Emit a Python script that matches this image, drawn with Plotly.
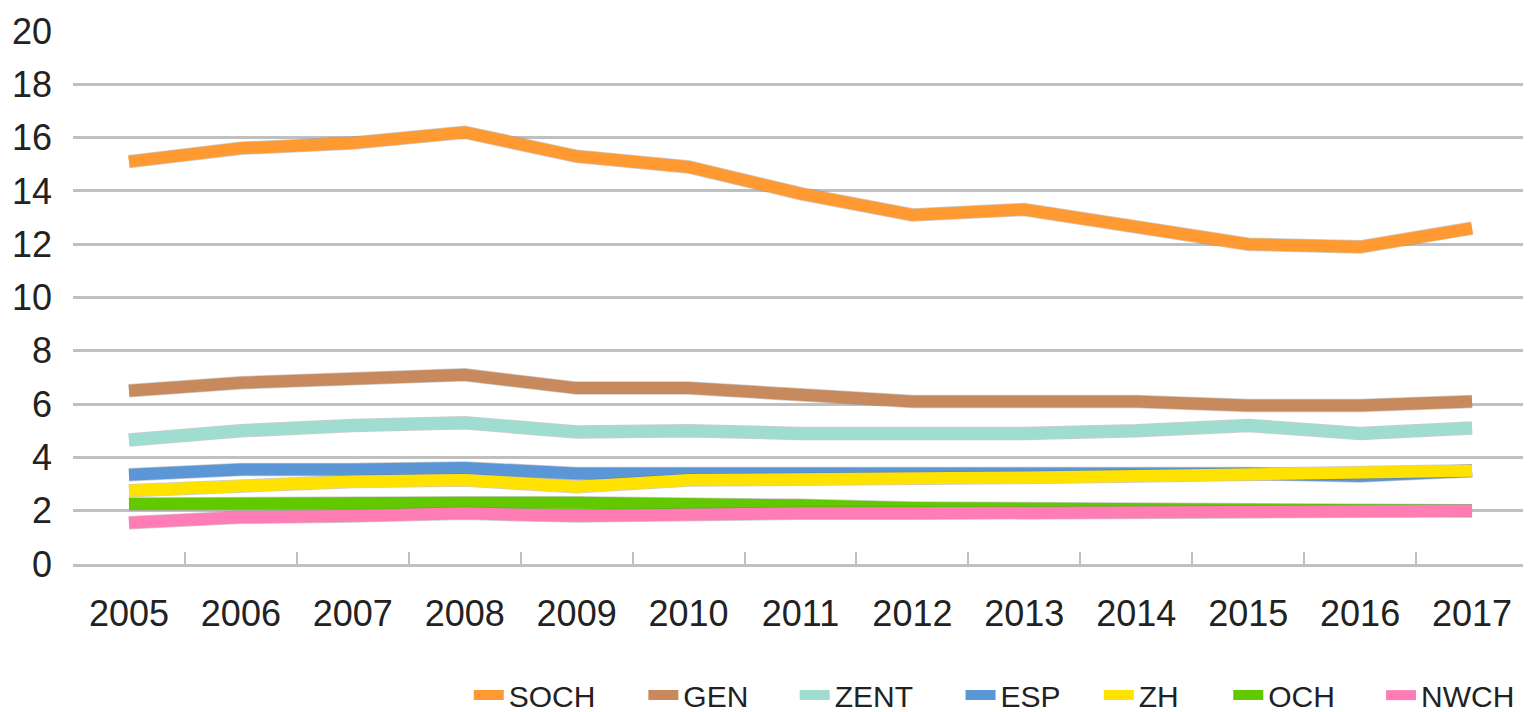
import plotly.graph_objects as go

years = ["2005", "2006", "2007", "2008", "2009", "2010", "2011",
         "2012", "2013", "2014", "2015", "2016", "2017"]

soch = [15.1, 15.6, 15.8, 16.2, 15.3, 14.9, 13.9, 13.1, 13.3, 12.7, 12.0, 11.9, 12.6]
gen = [6.5, 6.8, 6.95, 7.1, 6.6, 6.6, 6.35, 6.1, 6.1, 6.1, 5.95, 5.95, 6.1]
zent = [4.65, 5.0, 5.2, 5.3, 4.95, 5.0, 4.9, 4.85, 4.9, 5.0, 5.2, 4.9, 5.1]
esp = [3.35, 3.55, 3.55, 3.6, 3.4, 3.4, 3.4, 3.35, 3.4, 3.45, 3.4, 3.3, 3.5]
zh = [2.75, 2.95, 3.1, 3.15, 2.9, 3.15, 3.15, 3.2, 3.25, 3.3, 3.35, 3.4, 3.5]
och = [2.25, 2.3, 2.3, 2.3, 2.3, 2.3, 2.2, 2.1, 2.1, 2.05, 2.05, 2.0, 2.0]
nwch = [1.55, 1.75, 1.8, 1.9, 1.8, 1.9, 1.9, 1.9, 1.9, 1.95, 2.0, 1.9, 2.0]

series_names = ["SOCH", "GEN", "ZENT", "ESP", "ZH", "OCH", "NWCH"]
series_values = [soch, gen, zent, esp, zh, och, nwch]
series_colors = ["#FF9A33", "#C88A5C", "#A0DDD1", "#5B96D6", "#FFE200", "#62C800", "#FF7DB4"]

# legend entry left edges (paper fraction along the x axis)
legend_x = [0.272, 0.392, 0.496, 0.610, 0.705, 0.794, 0.899]

font_family = "Liberation Sans, Arial"

fig = go.Figure()
for i, (name, vals, color) in enumerate(zip(series_names, series_values, series_colors)):
    lg = "legend" if i == 0 else f"legend{i + 1}"
    fig.add_trace(go.Scatter(
        x=years, y=vals, mode="lines", showlegend=False, hoverinfo="skip",
        line=dict(color="rgba(110,110,110,0.35)", width=13.5),
    ))
    fig.add_trace(go.Scatter(
        x=years, y=vals, name=name, mode="lines", legend=lg,
        line=dict(color=color, width=12),
    ))

legend_style = dict(
    orientation="h", xanchor="left", y=-0.246, yanchor="middle",
    font=dict(family=font_family, size=30, color="#222222"),
    itemwidth=30, bgcolor="rgba(0,0,0,0)", borderwidth=0,
)
legends = {}
for i, lx in enumerate(legend_x):
    key = "legend" if i == 0 else f"legend{i + 1}"
    legends[key] = dict(legend_style, x=lx)

fig.update_layout(
    width=1523, height=704,
    margin=dict(l=65, r=3, t=23, b=148, autoexpand=False),
    plot_bgcolor="white", paper_bgcolor="white",
    showlegend=True,
    xaxis=dict(
        type="category", range=[-0.5, 12.5], automargin=False,
        showgrid=False, showline=True, linecolor="#C0C0C0", linewidth=3,
        ticks="inside", tickson="boundaries", ticklen=12, tickwidth=2,
        tickcolor="#C0C0C0",
        tickfont=dict(family=font_family, size=36, color="#222222"),
        ticklabelstandoff=16,
    ),
    yaxis=dict(
        range=[0, 20], tickvals=list(range(0, 21, 2)), automargin=False,
        showgrid=True, gridcolor="#C0C0C0", gridwidth=3,
        zeroline=False, showline=False,
        tickfont=dict(family=font_family, size=36, color="#222222"),
        ticklabelstandoff=20,
    ),
    **legends,
)

fig.write_html("out.html")
